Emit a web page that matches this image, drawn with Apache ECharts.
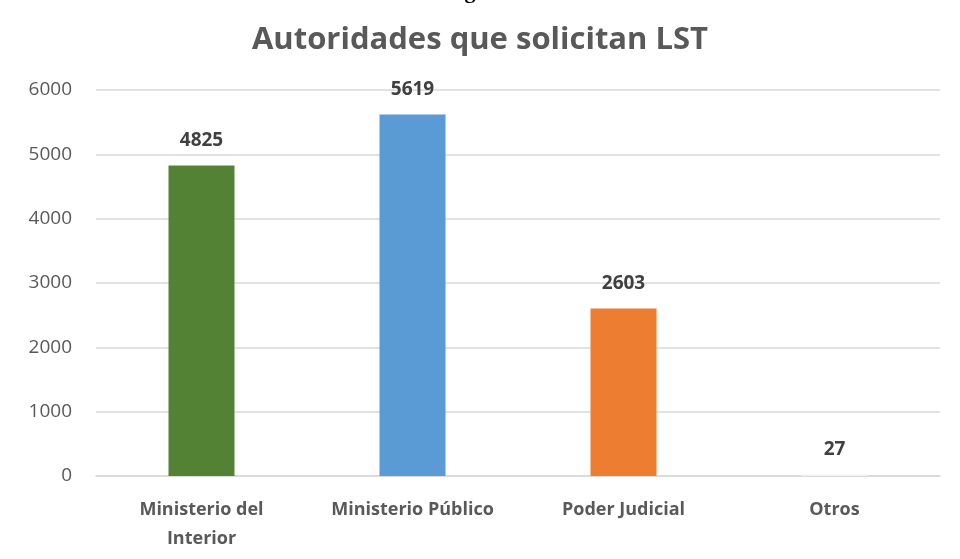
<!DOCTYPE html>
<html>
<head>
	<meta charset="UTF-8">
	<title>Autoridades que solicitan LST</title>
	<script src="https://cdn.jsdelivr.net/npm/echarts@6/dist/echarts.min.js"></script>
	<style>
		html, body { margin: 0; padding: 0; background: #fff; }
		#main { width: 960px; height: 559px; }
	</style>
</head>
<body>
<div id="main"></div>
<script type="text/javascript">
    // datos
    var categorias = ['Ministerio del\nInterior', 'Ministerio Público', 'Poder Judicial', 'Otros'];
    var valores = [4825, 5619, 2603, 27];
    var colores = ['#548235', '#5b9bd5', '#ed7d31', '#f2f2f2'];
    var ticksY = [0, 1000, 2000, 3000, 4000, 5000, 6000];

    var fuente = '"Open Sans", "Liberation Sans", sans-serif';
    var myChart = echarts.init(document.getElementById('main'));

    myChart.setOption({
        animation: false,
        title: {
            text: 'Autoridades que solicitan LST',
            left: 'center',
            top: 20,
            textStyle: {fontFamily: fuente, fontSize: 31, fontWeight: 'bold', color: '#595959'}
        },
        graphic: [
            // resto de un texto recortado arriba
            {type: 'text', left: 445, top: -19, style: {text: 'Figura', font: 'bold 22px "Liberation Serif", serif', fill: '#000'}}
        ],
        grid: {left: 96, right: 20, top: 90, bottom: 83},
        xAxis: {
            type: 'category',
            data: categorias,
            axisTick: {show: false},
            axisLine: {lineStyle: {color: '#d9d9d9', width: 1.5}},
            axisLabel: {
                interval: 0, margin: 19, lineHeight: 29,
                fontFamily: fuente, fontSize: 18, fontWeight: 'bold', color: '#595959'
            }
        },
        yAxis: {
            type: 'value',
            min: ticksY[0],
            max: ticksY[ticksY.length - 1],
            interval: 1000,
            axisLine: {show: false},
            axisTick: {show: false},
            splitLine: {lineStyle: {color: '#d9d9d9', width: 1.5}},
            axisLabel: {
                margin: 24, fontFamily: fuente, fontSize: 19, color: '#595959',
                formatter: function (v) { return String(v); }
            }
        },
        series: [{
            type: 'bar',
            barWidth: 66,
            data: valores.map(function (v, i) {
                return {value: v, itemStyle: {color: colores[i]}};
            }),
            label: {
                show: true, position: 'top', distance: 15,
                fontFamily: fuente, fontSize: 19, fontWeight: 'bold', color: '#404040'
            }
        }]
    });
</script>
</body>
</html>
